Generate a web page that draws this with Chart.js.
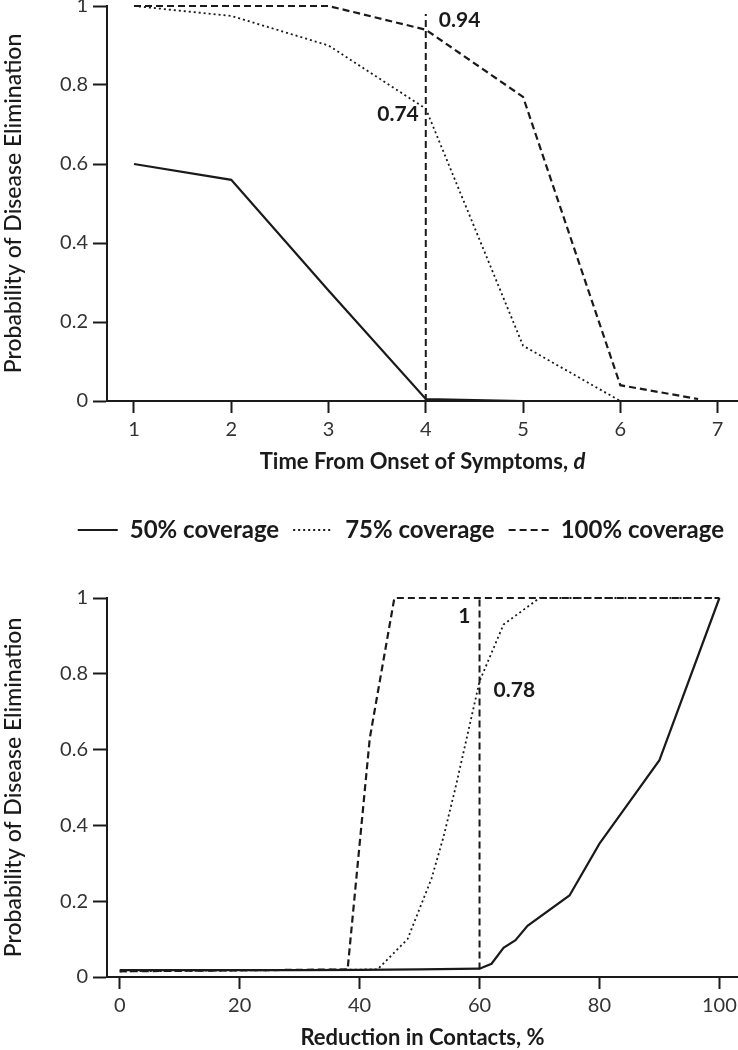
<!DOCTYPE html>
<html>
<head>
<meta charset="utf-8">
<script src="https://cdn.jsdelivr.net/npm/chart.js@4.4.0/dist/chart.umd.min.js"></script>
<style>
  html, body { margin: 0; padding: 0; background: #fff; }
  .caja { position: relative; width: 738px; }
</style>
</head>
<body>
<div class="caja" style="height:560px"><canvas id="graficoDias"></canvas></div>
<div class="caja" style="height:490px"><canvas id="graficoContactos"></canvas></div>
<script>
// Panel superior: tiempo desde el inicio de los síntomas (días)
const dias50 = [1, 2, 3, 4, 5];
const prob50Dias = [0.60, 0.56, 0.28, 0.005, 0.0];
const dias75 = [1, 2, 3, 4, 5, 6];
const prob75Dias = [1.0, 0.975, 0.90, 0.74, 0.14, 0.0];
const dias100 = [1, 2, 3, 4, 5, 6, 6.8];
const prob100Dias = [1.0, 1.0, 1.0, 0.94, 0.77, 0.04, 0.005];
const ticksDias = [1, 2, 3, 4, 5, 6, 7];
const refDias = [4, 4];
const refDiasProb = [0, 0.98];
const etiquetasDias = ['0.94', '0.74'];
const etiquetasDiasX = [4, 4];
const etiquetasDiasY = [0.94, 0.74];

// Panel inferior: reducción de contactos (%)
const red50 = [0, 10, 20, 30, 40, 50, 60, 62, 64, 66, 68, 75, 80, 90, 100];
const prob50Red = [0.018, 0.018, 0.018, 0.018, 0.019, 0.02, 0.022, 0.035, 0.077, 0.097, 0.135, 0.215, 0.352, 0.572, 1.0];
const red75 = [0, 43, 48, 52, 54, 56, 58, 60, 64, 70, 100];
const prob75Red = [0.015, 0.02, 0.10, 0.26, 0.37, 0.50, 0.64, 0.78, 0.93, 1.0, 1.0];
const red100 = [0, 38, 41.7, 45.8, 100];
const prob100Red = [0.015, 0.02, 0.63, 1.0, 1.0];
const ticksRed = [0, 20, 40, 60, 80, 100];
const refRed = [60, 60];
const refRedProb = [0.02, 1.0];
const etiquetasRed = ['1', '0.78'];
const etiquetasRedX = [60, 60];
const etiquetasRedY = [1.0, 0.78];

const ticksProb = [0, 0.2, 0.4, 0.6, 0.8, 1];
const nombres = ['50% coverage', '75% coverage', '100% coverage'];

const FUENTE = "Lato, 'Open Sans', sans-serif";
const TINTA = '#1a1a1a';

const puntos = (xs, ys) => xs.map((x, i) => ({ x: x, y: ys[i] }));

function serie(label, xs, ys, dash, ancho) {
    return {
        label: label,
        data: puntos(xs, ys),
        borderColor: TINTA,
        borderWidth: ancho,
        borderDash: dash,
        pointRadius: 0,
        tension: 0,
        fill: false,
        clip: 4
    };
}

// etiquetas de texto junto a la línea vertical
function pluginEtiquetas(textos, xs, ys, desplaz) {
    return {
        id: 'etiquetas',
        afterDatasetsDraw(chart) {
            const ctx = chart.ctx;
            const ex = chart.scales.x, ey = chart.scales.y;
            ctx.save();
            ctx.font = 'bold 21px ' + FUENTE;
            ctx.fillStyle = TINTA;
            ctx.textBaseline = 'middle';
            textos.forEach((t, i) => {
                const d = desplaz[i];
                ctx.textAlign = d.dx >= 0 ? 'left' : 'right';
                ctx.fillText(t, ex.getPixelForValue(xs[i]) + d.dx, ey.getPixelForValue(ys[i]) + d.dy);
            });
            ctx.restore();
        }
    };
}

// título del eje x con la "d" en cursiva
const pluginTituloDias = {
    id: 'tituloDias',
    afterDraw(chart) {
        const ctx = chart.ctx;
        const a = chart.chartArea;
        const parte1 = 'Time From Onset of Symptoms, ';
        const parte2 = 'd';
        ctx.save();
        ctx.fillStyle = TINTA;
        ctx.textBaseline = 'middle';
        ctx.textAlign = 'left';
        ctx.font = 'bold 22px ' + FUENTE;
        const w1 = ctx.measureText(parte1).width;
        ctx.font = 'italic bold 22px ' + FUENTE;
        const w2 = ctx.measureText(parte2).width;
        const x0 = (a.left + a.right) / 2 - (w1 + w2) / 2;
        const y = chart.scales.x.bottom - 42;
        ctx.font = 'bold 22px ' + FUENTE;
        ctx.fillText(parte1, x0, y);
        ctx.font = 'italic bold 22px ' + FUENTE;
        ctx.fillText(parte2, x0 + w1, y);
        ctx.restore();
    }
};

function ejeY(etiqueta) {
    return {
        type: 'linear',
        min: 0,
        max: 1,
        afterBuildTicks: s => { s.ticks = ticksProb.map(v => ({ value: v })); },
        afterFit: s => { s.width = 107; s.paddingTop = 0; s.paddingBottom = 0; },
        border: { display: true, color: TINTA, width: 2 },
        grid: { drawOnChartArea: false, drawTicks: true, tickLength: 14, tickWidth: 2, color: TINTA },
        ticks: { padding: 5, color: '#333', font: { family: FUENTE, size: 20 }, callback: v => String(v) },
        title: { display: true, text: etiqueta, color: TINTA, padding: { top: 0, bottom: 0 }, font: { family: FUENTE, size: 23, weight: '500' } }
    };
}

function ejeX(min, max, ticks, alto, titulo) {
    return {
        type: 'linear',
        min: min,
        max: max,
        afterBuildTicks: s => { s.ticks = ticks.map(v => ({ value: v })); },
        afterFit: s => { s.height = alto; s.paddingLeft = 0; s.paddingRight = 0; },
        border: { display: true, color: TINTA, width: 2 },
        grid: { drawOnChartArea: false, drawTicks: true, tickLength: 12, tickWidth: 2, color: TINTA },
        ticks: { padding: 5, maxRotation: 0, color: '#333', font: { family: FUENTE, size: 20 }, callback: v => String(v) },
        title: titulo
    };
}

const leyenda = {
    display: true,
    position: 'bottom',
    align: 'end',
    labels: {
        usePointStyle: true,
        pointStyleWidth: 40,
        padding: 14,
        color: TINTA,
        font: { family: FUENTE, size: 24, weight: 'bold' },
        generateLabels: chart => chart.data.datasets
            .map((ds, i) => ({
                text: ds.label,
                fillStyle: 'transparent',
                strokeStyle: TINTA,
                lineWidth: ds.borderWidth,
                lineDash: ds.borderDash,
                pointStyle: 'line',
                fontColor: TINTA,
                hidden: false,
                datasetIndex: i
            }))
            .filter(it => it.text)
    }
};

new Chart(document.getElementById('graficoDias'), {
    type: 'line',
    data: {
        datasets: [
            serie(nombres[0], dias50, prob50Dias, [], 2.2),
            serie(nombres[1], dias75, prob75Dias, [2, 3], 1.8),
            serie(nombres[2], dias100, prob100Dias, [7, 4], 2.2),
            serie('', refDias, refDiasProb, [7, 4], 2)
        ]
    },
    options: {
        responsive: true,
        maintainAspectRatio: false,
        animation: false,
        layout: { padding: { top: 6, left: 0, right: 0, bottom: 8 } },
        plugins: { legend: leyenda, tooltip: { enabled: false } },
        scales: {
            x: ejeX(0.7225, 7.21, ticksDias, 103, { display: false }),
            y: ejeY('Probability of Disease Elimination')
        }
    },
    plugins: [
        pluginEtiquetas(etiquetasDias, etiquetasDiasX, etiquetasDiasY, [{ dx: 13, dy: -9 }, { dx: -7, dy: 6 }]),
        pluginTituloDias
    ]
});

new Chart(document.getElementById('graficoContactos'), {
    type: 'line',
    data: {
        datasets: [
            serie(nombres[0], red50, prob50Red, [], 2.2),
            serie(nombres[1], red75, prob75Red, [2, 3], 1.8),
            serie(nombres[2], red100, prob100Red, [7, 4], 2.2),
            serie('', refRed, refRedProb, [7, 4], 2)
        ]
    },
    options: {
        responsive: true,
        maintainAspectRatio: false,
        animation: false,
        layout: { padding: { top: 38, left: 0, right: 0, bottom: 0 } },
        plugins: { legend: { display: false }, tooltip: { enabled: false } },
        scales: {
            x: ejeX(-2.12, 103.1, ticksRed, 73, {
                display: true,
                text: 'Reduction in Contacts, %',
                color: TINTA,
                padding: { top: 0, bottom: 0 },
                font: { family: FUENTE, size: 22, weight: 'bold', lineHeight: 1.1 }
            }),
            y: ejeY('Probability of Disease Elimination')
        }
    },
    plugins: [
        pluginEtiquetas(etiquetasRed, etiquetasRedX, etiquetasRedY, [{ dx: -9, dy: 18 }, { dx: 14, dy: 9 }])
    ]
});
</script>
</body>
</html>
